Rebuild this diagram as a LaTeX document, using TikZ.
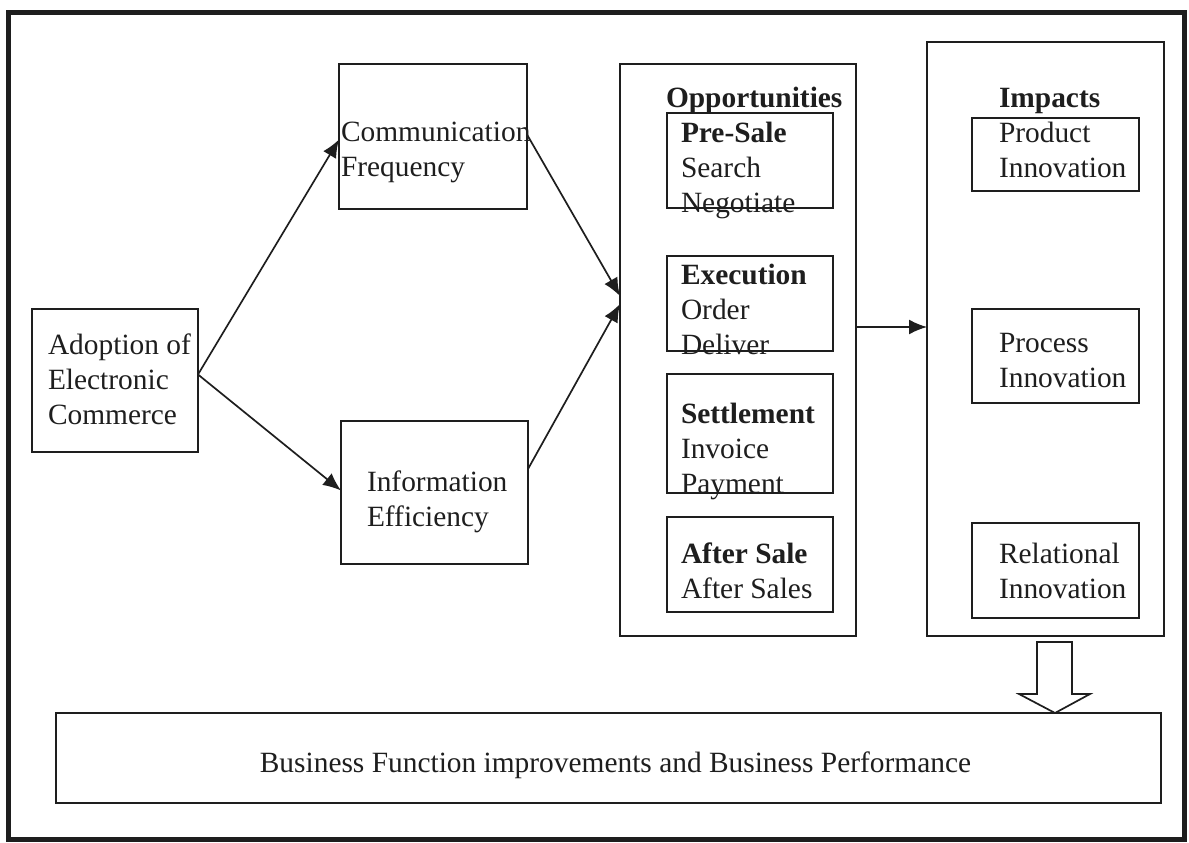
\documentclass[tikz,border=0pt]{standalone}
\usepackage{fontspec}
\setmainfont{Liberation Serif}
\usetikzlibrary{arrows.meta}
\definecolor{ink}{HTML}{1E1E1E}
\tikzset{
  box/.style={draw=ink, line width=1.7pt, inner sep=0pt, outer sep=0pt},
  txt/.style={inner sep=0pt, outer sep=0pt, align=left, anchor=base west, text=ink,
              font=\fontsize{29.4}{35}\selectfont},
  conn/.style={draw=ink, line width=1.7pt, -{Latex[length=18pt,width=15pt]}},
}
\begin{document}
\begin{tikzpicture}[x=1pt,y=-1pt]
\useasboundingbox (0,0) rectangle (1189,843);
\fill[white] (0,0) rectangle (1189,843);
% outer frame
\draw[ink, line width=5pt] (8,13) rectangle (1184,839);

% boxes
\node[box, minimum width=166pt, minimum height=143pt] (adopt) at (115,380.5) {};
\node[box, minimum width=188pt, minimum height=145pt] (comm) at (433,136.5) {};
\node[box, minimum width=187pt, minimum height=143pt] (info) at (434.5,492.5) {};
\node[box, minimum width=236pt, minimum height=572pt] (opp) at (738,350) {};
\node[box, minimum width=166pt, minimum height=95pt] (presale) at (750,160.5) {};
\node[box, minimum width=166pt, minimum height=95pt] (exec) at (750,303.5) {};
\node[box, minimum width=166pt, minimum height=119pt] (settle) at (750,433.5) {};
\node[box, minimum width=166pt, minimum height=95pt] (after) at (750,564.5) {};
\node[box, minimum width=237pt, minimum height=594pt] (imp) at (1045.5,339) {};
\node[box, minimum width=167pt, minimum height=73pt] (prod) at (1055.5,154.5) {};
\node[box, minimum width=167pt, minimum height=94pt] (proc) at (1055.5,356) {};
\node[box, minimum width=167pt, minimum height=95pt] (rel) at (1055.5,570.5) {};
\node[box, minimum width=1105pt, minimum height=90pt] (biz) at (608.5,758) {};

% texts (base anchor = baseline of the last line)
\node[txt] (tadopt) at (48,424) {Adoption of\\Electronic\\Commerce};
\node[txt] (tcomm) at (341,176) {Communication\\Frequency};
\node[txt] (tinfo) at (367,526) {Information\\Efficiency};
\node[txt] (topp) at (666,107) {\bfseries Opportunities};
\node[txt] (tpre) at (681,212) {\textbf{Pre-Sale}\\Search\\Negotiate};
\node[txt] (texec) at (681,354) {\textbf{Execution}\\Order\\Deliver};
\node[txt] (tsettle) at (681,493) {\textbf{Settlement}\\Invoice\\Payment};
\node[txt] (tafter) at (681,598) {\textbf{After Sale}\\After Sales};
\node[txt] (timp) at (999,107) {\bfseries Impacts};
\node[txt] (tprod) at (999,177) {Product\\Innovation};
\node[txt] (tproc) at (999,387) {Process\\Innovation};
\node[txt] (trel) at (999,598) {Relational\\Innovation};
\node[txt, anchor=base] (tbiz) at (615.5,772) {Business Function improvements and Business Performance};

% connectors
\draw[conn] ([yshift=6pt]adopt.east) -- ([yshift=-3pt]comm.west);
\draw[conn] ([yshift=6pt]adopt.east) -- ([yshift=2pt]info.west);
\draw[conn] ([yshift=2pt]comm.east) -- ([yshift=54pt]opp.west);
\draw[conn] ([yshift=23.5pt]info.east) -- ([yshift=46pt]opp.west);
\draw[conn] ([yshift=23pt]opp.east) -- ([yshift=23pt]opp.east -| imp.west);

% block arrow from impacts to business box
\draw[ink, line width=1.7pt, line join=miter, fill=white]
  (1037,642) -- (1037,694) -- (1019,694) -- (1055,713) -- (1090,694) -- (1072,694) -- (1072,642) -- cycle;
\end{tikzpicture}
\end{document}
